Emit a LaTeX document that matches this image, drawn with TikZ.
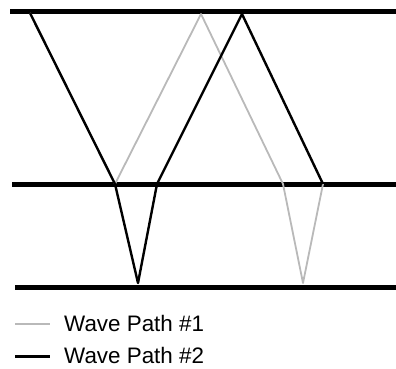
\documentclass[tikz,border=0pt]{standalone}
\usepackage{fontspec}
\setmainfont{Liberation Sans}

\tikzset{
layer/.style={line width=5pt},
path one/.style={gray!55, line width=1.8pt, line join=round},
path two/.style={black, line width=2.4pt, line join=round},
legend text/.style={anchor=base west, inner sep=0pt, font=\fontsize{22.4}{26}\selectfont}
}

\begin{document}
\begin{tikzpicture}[x=1pt,y=-1pt]

\useasboundingbox (0,0) rectangle (396,368);

%%%%%%%%%%%%%%%%%%%%%%%%%%%%%%%%%%%%%%%%%%%%%%%%%%%%%%
% LAYER BOUNDARIES
%%%%%%%%%%%%%%%%%%%%%%%%%%%%%%%%%%%%%%%%%%%%%%%%%%%%%%

\coordinate (topL) at (10,11.5);
\coordinate (topR) at (396,11.5);
\coordinate (midL) at (12,184.5);
\coordinate (midR) at (396,184.5);
\coordinate (botL) at (15,287);
\coordinate (botR) at (396,287);

\draw[layer] (topL) -- (topR);
\draw[layer] (midL) -- (midR);
\draw[layer] (botL) -- (botR);

%%%%%%%%%%%%%%%%%%%%%%%%%%%%%%%%%%%%%%%%%%%%%%%%%%%%%%
% WAVE PATH #1
%%%%%%%%%%%%%%%%%%%%%%%%%%%%%%%%%%%%%%%%%%%%%%%%%%%%%%

\coordinate (start) at (30,13);
\coordinate (hit) at (115,184);
\coordinate (oneTop) at (201,14);
\coordinate (oneMid) at (283,184);
\coordinate (oneBot) at (303,283);
\coordinate (end) at (323,184);

\draw[path one] (start) -- (hit) -- (oneTop) -- (oneMid) -- (oneBot) -- (end);

%%%%%%%%%%%%%%%%%%%%%%%%%%%%%%%%%%%%%%%%%%%%%%%%%%%%%%
% WAVE PATH #2
%%%%%%%%%%%%%%%%%%%%%%%%%%%%%%%%%%%%%%%%%%%%%%%%%%%%%%

\coordinate (twoBot) at (138,283);
\coordinate (twoMid) at (157,184);
\coordinate (twoTop) at (242,14);

\draw[path two] (start) -- (hit) -- (twoBot) -- (twoMid) -- (twoTop) -- (end);

%%%%%%%%%%%%%%%%%%%%%%%%%%%%%%%%%%%%%%%%%%%%%%%%%%%%%%
% LEGEND
%%%%%%%%%%%%%%%%%%%%%%%%%%%%%%%%%%%%%%%%%%%%%%%%%%%%%%

\node[legend text] (leg1) at (64,331) {Wave Path \#1};
\node[legend text] (leg2) at (64,363) {Wave Path \#2};

\coordinate (key1) at (15,324);
\coordinate (key2) at (15,356.5);

\draw[path one] (key1) -- ([xshift=-14pt]leg1.west |- key1);
\draw[path two] (key2) -- ([xshift=-14pt]leg2.west |- key2);

\end{tikzpicture}
\end{document}
